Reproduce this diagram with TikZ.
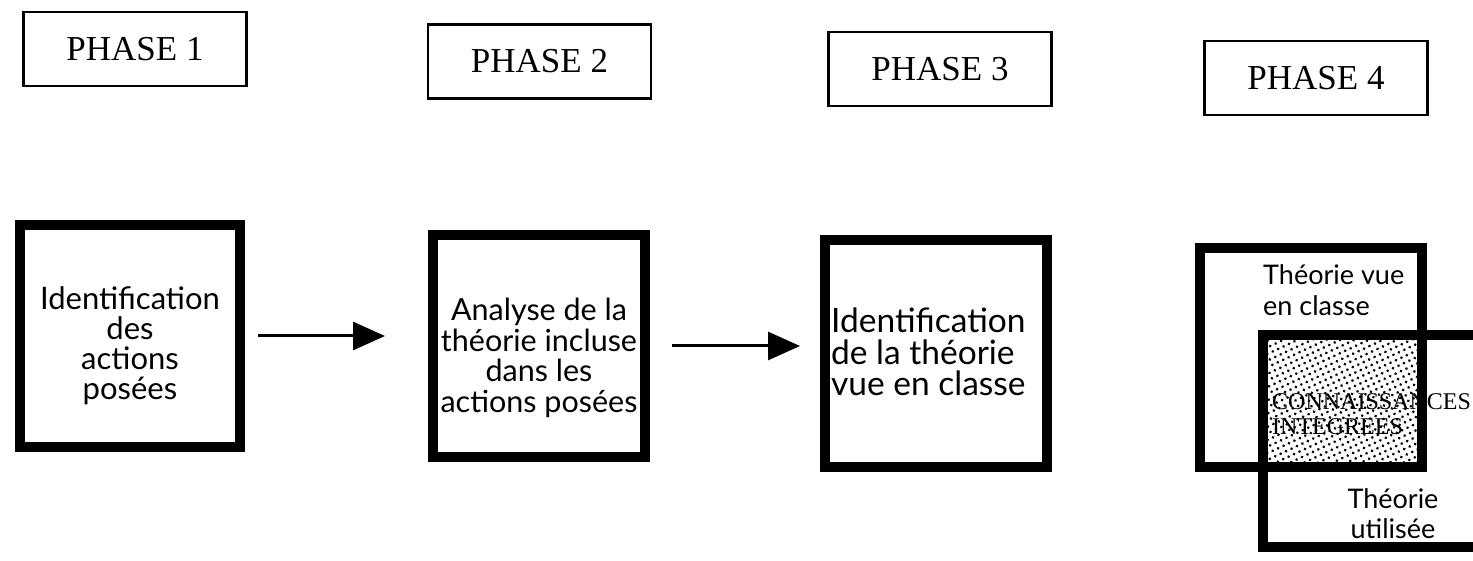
\documentclass[tikz,border=0pt]{standalone}
\usepackage{fontspec}
\setmainfont{Liberation Serif}
\newfontfamily\bodyfont{Lato}
\usetikzlibrary{arrows.meta,patterns.meta}

\begin{document}
\begin{tikzpicture}[x=1pt,y=-1pt,
  phaselabel/.style={draw,line width=2.6pt,minimum width=223pt,minimum height=74pt,
    inner sep=0pt,font=\fontsize{35}{38}\selectfont},
  stagebox/.style={draw,line width=10pt,inner sep=0pt},
  bodytext/.style={inner sep=0pt,align=center},
  flow/.style={line width=3pt,-{Triangle[length=32pt,width=28pt]}}]
\useasboundingbox (0,0) rectangle (1473,561);
\begin{scope}
\clip (0,0) rectangle (1473,561);

% phase headers
\node[phaselabel] (p1) at (135,49)   {PHASE 1};
\node[phaselabel] (p2) at (539.5,61.5) {PHASE 2};
\node[phaselabel] (p3) at (940,69)   {PHASE 3};
\node[phaselabel] (p4) at (1316,78)  {PHASE 4};

% stage boxes
\node[stagebox,minimum width=220pt,minimum height=222pt] (b1) at (130,336) {};
\node[stagebox,minimum width=212pt,minimum height=222pt] (b2) at (539,346) {};
\node[stagebox,minimum width=222pt,minimum height=227pt] (b3) at (936,353.5) {};

\node[bodytext,font=\bodyfont\fontsize{31}{30}\selectfont] (t1) at (130,346)
  {Identification\\des\\actions\\posées};
\node[bodytext,font=\bodyfont\fontsize{30.5}{30.5}\selectfont] (t2) at (539,358)
  {Analyse de la\\théorie incluse\\dans les\\actions posées};
\node[bodytext,align=left,anchor=west,font=\bodyfont\fontsize{33.5}{31.5}\selectfont] (t3) at (831,352)
  {Identification\\de la théorie\\vue en classe};

% arrows between stages
\draw[flow,shorten <=13pt,shorten >=43pt] (b1.east) -- (b1.east -| b2.west);
\draw[flow,shorten <=22pt,shorten >=20pt] (b2.east) -- (b2.east -| b3.west);

% phase 4: overlapping areas
\fill[pattern={Dots[distance=6pt,radius=1.5pt,angle=25]},pattern color=black]
  (1263,335) rectangle (1422,467);
\node[bodytext,align=left,anchor=west,font=\fontsize{24}{25}\selectfont] (ci) at (1272,414)
  {CONNAISSANCES\\INTEGREES};

\node[stagebox,minimum width=222pt,minimum height=219pt] (ba) at (1311,357.5) {};
\coordinate (bb1) at (1495,335);
\coordinate (bb2) at (1263,335);
\coordinate (bb3) at (1263,547);
\coordinate (bb4) at (1495,547);
\draw[line width=10pt] (bb1) -- (bb2) -- (bb3) -- (bb4);

\node[bodytext,align=left,anchor=west,font=\bodyfont\fontsize{27}{31}\selectfont] (ta) at (1263,290)
  {Théorie vue\\en classe};
\node[bodytext,font=\bodyfont\fontsize{27}{30}\selectfont] (tb) at (1393,514)
  {Théorie\\utilisée};
\end{scope}
\end{tikzpicture}
\end{document}
